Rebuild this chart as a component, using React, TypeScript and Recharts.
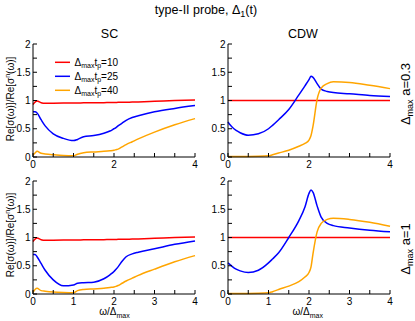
import React from 'react';
import { LineChart, Line, XAxis, YAxis } from 'recharts';

// omega / Delta_max sample points shared by every curve
const omega = [0, 0.05, 0.1, 0.2, 0.3, 0.5, 0.75, 1, 1.1, 1.25, 1.5, 1.75, 1.9, 2, 2.05, 2.1, 2.2, 2.3, 2.45, 2.6, 3, 3.5, 4];

// SC column (same red curve in both rows)
const scRed = [0.93, 0.97, 0.99, 0.96, 0.95, 0.952, 0.954, 0.955, 0.956, 0.958, 0.96, 0.962, 0.964, 0.965, 0.966, 0.967, 0.968, 0.97, 0.972, 0.975, 0.985, 0.998, 1.01];
const scA03Blue = [0.8, 0.8, 0.78, 0.66, 0.55, 0.41, 0.33, 0.29, 0.31, 0.36, 0.38, 0.42, 0.46, 0.5, 0.52, 0.55, 0.6, 0.65, 0.7, 0.73, 0.8, 0.86, 0.91];
const scA03Orange = [0.03, 0.07, 0.1, 0.065, 0.055, 0.04, 0.025, 0.02, 0.05, 0.075, 0.09, 0.1, 0.11, 0.12, 0.13, 0.14, 0.18, 0.22, 0.27, 0.32, 0.44, 0.57, 0.68];
const scA1Blue = [0.7, 0.7, 0.66, 0.54, 0.42, 0.25, 0.145, 0.16, 0.19, 0.2, 0.21, 0.27, 0.34, 0.4, 0.44, 0.48, 0.58, 0.66, 0.71, 0.74, 0.8, 0.88, 0.94];
const scA1Orange = [0.03, 0.08, 0.1, 0.06, 0.05, 0.035, 0.025, 0.02, 0.06, 0.08, 0.09, 0.1, 0.115, 0.125, 0.135, 0.15, 0.19, 0.23, 0.28, 0.33, 0.44, 0.57, 0.68];

// CDW column
const cdwRed = [1, 1, 1, 1, 1, 1, 1, 1, 1, 1, 1, 1, 1, 1, 1, 1, 1, 1, 1, 1, 1, 1, 1];
const cdwA03Blue = [0.62, 0.57, 0.53, 0.47, 0.43, 0.385, 0.41, 0.5, 0.56, 0.66, 0.84, 1.1, 1.26, 1.37, 1.43, 1.41, 1.3, 1.2, 1.16, 1.14, 1.12, 1.09, 1.07];
const cdwA03Orange = [0.01, 0.01, 0.01, 0.01, 0.01, 0.01, 0.012, 0.02, 0.04, 0.07, 0.12, 0.19, 0.24, 0.3, 0.38, 0.55, 1.02, 1.22, 1.3, 1.33, 1.32, 1.27, 1.21];
const cdwA1Blue = [0.55, 0.52, 0.49, 0.44, 0.41, 0.38, 0.42, 0.55, 0.62, 0.73, 1.0, 1.3, 1.54, 1.78, 1.84, 1.8, 1.56, 1.36, 1.25, 1.21, 1.17, 1.13, 1.1];
const cdwA1Orange = [0.01, 0.01, 0.01, 0.01, 0.01, 0.01, 0.012, 0.02, 0.04, 0.08, 0.14, 0.22, 0.3, 0.38, 0.48, 0.72, 1.1, 1.25, 1.32, 1.34, 1.32, 1.27, 1.2];

const seriesColors = ['#ff0000', '#0000ff', '#ffa500'];
const legendValues = ['10', '25', '40'];

const xTicks = [0, 0.5, 1, 1.5, 2, 2.5, 3, 3.5, 4];
const yTicks = [0, 0.25, 0.5, 0.75, 1, 1.25, 1.5, 1.75, 2];
const topXLabels = [0, 2, 4];
const bottomXLabels = [0, 1, 2, 3, 4];
const yLabels = [0, 0.5, 1, 1.5, 2];

const FONT = '"Liberation Sans", Arial, sans-serif';
const PLOT_W = 162;
const PLOT_H = 113;
const PAD_L = 30;
const PAD_T = 10;
const PAD_R = 10;
const PAD_B = 22;

const tickStyle = { fontSize: 10, fill: '#000', fontFamily: FONT };

function Panel({ left, top, red, blue, orange, xLabels }) {
  const rows = omega.map((w, i) => ({ w, red: red[i], blue: blue[i], orange: orange[i] }));
  return (
    <div style={{ position: 'absolute', left: left - PAD_L, top: top - PAD_T }}>
      <LineChart
        width={PLOT_W + PAD_L + PAD_R}
        height={PLOT_H + PAD_T + PAD_B}
        data={rows}
        margin={{ top: PAD_T, right: PAD_R, bottom: 0, left: 0 }}
      >
        <XAxis
          dataKey='w'
          type='number'
          domain={[0, 4]}
          ticks={xTicks}
          interval={0}
          height={PAD_B}
          stroke='#000'
          tickSize={-4}
          tickMargin={8}
          tick={tickStyle}
          tickFormatter={(v) => (xLabels.includes(v) ? String(v) : '')}
        />
        <XAxis
          xAxisId='top'
          orientation='top'
          dataKey='w'
          type='number'
          domain={[0, 4]}
          ticks={xTicks}
          interval={0}
          height={0}
          stroke='#000'
          tickSize={-4}
          tick={false}
        />
        <YAxis
          type='number'
          domain={[0, 2]}
          ticks={yTicks}
          interval={0}
          width={PAD_L}
          stroke='#000'
          tickSize={-4}
          tickMargin={6.5}
          tick={tickStyle}
          tickFormatter={(v) => (yLabels.includes(v) ? String(v) : '')}
        />
        <YAxis
          yAxisId='right'
          orientation='right'
          type='number'
          domain={[0, 2]}
          allowDataOverflow
          ticks={yTicks}
          interval={0}
          width={0}
          stroke='#000'
          tickSize={-4}
          tick={false}
        />
        <Line type='monotone' dataKey='red' stroke={seriesColors[0]} strokeWidth={1.5} dot={false} isAnimationActive={false} />
        <Line type='monotone' dataKey='blue' stroke={seriesColors[1]} strokeWidth={1.5} dot={false} isAnimationActive={false} />
        <Line type='monotone' dataKey='orange' stroke={seriesColors[2]} strokeWidth={1.5} dot={false} isAnimationActive={false} />
      </LineChart>
    </div>
  );
}

function YTitle({ x, y }) {
  return (
    <text transform={`translate(${x},${y}) rotate(-90)`} textAnchor='middle' fontSize={10}>
      Re[σ(ω)]/Re[σ<tspan dy={-4} fontSize={7}>n</tspan>
      <tspan dy={4}>(ω)]</tspan>
    </text>
  );
}

function XTitle({ x }) {
  return (
    <text x={x} y={315} textAnchor='middle' fontSize={10}>
      ω/Δ<tspan dy={2.5} fontSize={7}>max</tspan>
    </text>
  );
}

function RowTitle({ y, a }) {
  return (
    <text transform={`translate(410,${y}) rotate(-90)`} textAnchor='middle' fontSize={13}>
      Δ<tspan dy={3} fontSize={9}>max</tspan>
      <tspan dy={-3}> a={a}</tspan>
    </text>
  );
}

export default function App() {
  return (
    <div style={{ position: 'absolute', left: 0, top: 0, width: 415, height: 321, background: '#fff', fontFamily: FONT }}>
      <Panel left={33} top={44} red={scRed} blue={scA03Blue} orange={scA03Orange} xLabels={topXLabels} />
      <Panel left={227.5} top={44} red={cdwRed} blue={cdwA03Blue} orange={cdwA03Orange} xLabels={topXLabels} />
      <Panel left={33} top={181} red={scRed} blue={scA1Blue} orange={scA1Orange} xLabels={bottomXLabels} />
      <Panel left={227.5} top={181} red={cdwRed} blue={cdwA1Blue} orange={cdwA1Orange} xLabels={bottomXLabels} />
      <svg width={415} height={321} style={{ position: 'absolute', left: 0, top: 0, pointerEvents: 'none', fontFamily: FONT }}>
        <text x={206} y={14} textAnchor='middle' fontSize={12.5}>
          type-II probe, Δ<tspan dy={3} fontSize={9}>1</tspan>
          <tspan dy={-3}>(t)</tspan>
        </text>
        <text x={109.5} y={37.5} textAnchor='middle' fontSize={12.5}>SC</text>
        <text x={303} y={37.5} textAnchor='middle' fontSize={12.5}>CDW</text>
        <YTitle x={13.5} y={99} />
        <YTitle x={13.5} y={235} />
        <XTitle x={114.5} />
        <XTitle x={307.7} />
        <RowTitle y={94} a='0.3' />
        <RowTitle y={249} a='1' />
        {legendValues.map((v, i) => (
          <g key={v}>
            <line x1={55} x2={70} y1={62.3 + i * 14} y2={62.3 + i * 14} stroke={seriesColors[i]} strokeWidth={1.5} />
            <text x={74.5} y={65.5 + i * 14} fontSize={10}>
              Δ<tspan dy={2.5} fontSize={7}>max</tspan>
              <tspan dy={-2.5}>t</tspan>
              <tspan dy={2.5} fontSize={7}>p</tspan>
              <tspan dy={-2.5}>={v}</tspan>
            </text>
          </g>
        ))}
      </svg>
    </div>
  );
}
